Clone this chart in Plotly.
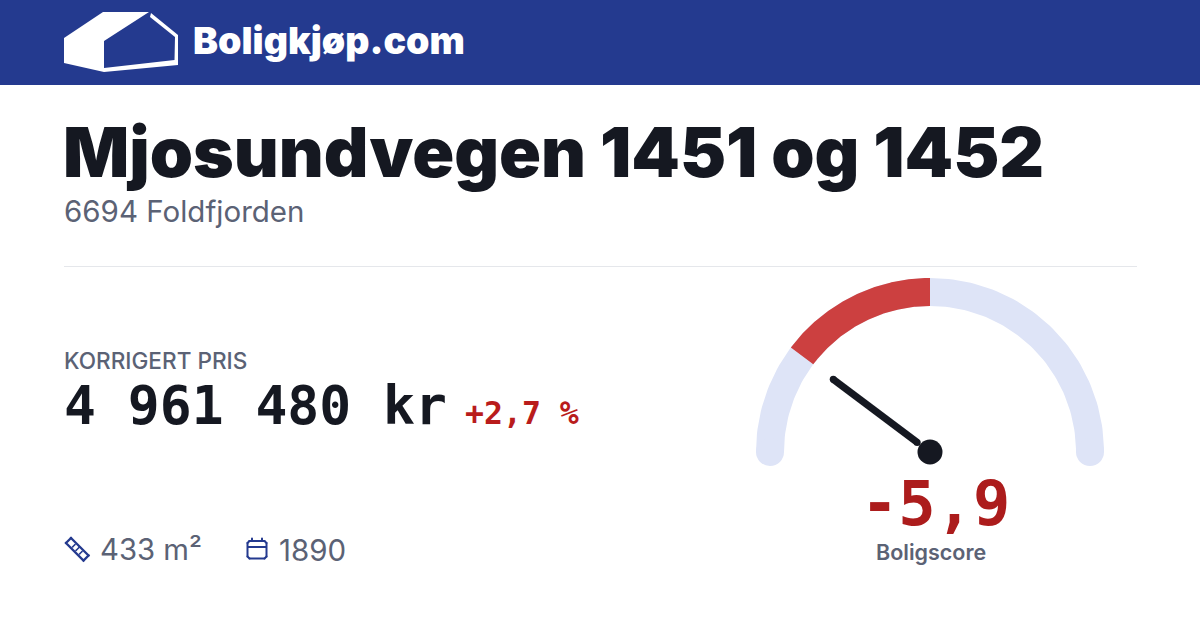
import math
import plotly.graph_objects as go

# --- content ---
brand = "Boligkjøp.com"
address = "Mjosundvegen 1451 og 1452"
place = "6694 Foldfjorden"
price_label = "KORRIGERT PRIS"
price_text = "4 961 480 kr"
change_text = "+2,7 %"
area_text = "433 m²"
year_text = "1890"
score_label = "Boligscore"
score_text = "-5,9"

# --- gauge values ---
score = -5.9
score_min = -10
score_max = 10

NAVY = "#243A8F"
INK = "#151821"
GREY = "#5B6275"
TRACK = "#DEE4F7"
ARC_RED = "#CC4040"
PCT_RED = "#B91C1C"
SCORE_RED = "#AC1C1C"

CX, CY, R, W = 930, 452, 160, 28

def score_angle(v):
    return (v - score_min) / (score_max - score_min) * math.pi

def band(v0, v1):
    n = 120
    a0, a1 = score_angle(v0), score_angle(v1)
    angs = [a0 + (a1 - a0) * i / n for i in range(n + 1)]
    ro, ri = R + W / 2, R - W / 2
    xs = [CX - ro * math.cos(a) for a in angs] + [CX - ri * math.cos(a) for a in reversed(angs)]
    ys = [CY - ro * math.sin(a) for a in angs] + [CY - ri * math.sin(a) for a in reversed(angs)]
    return xs + xs[:1], ys + ys[:1]

fig = go.Figure()

def poly(xs, ys, color):
    fig.add_trace(go.Scatter(x=xs, y=ys, mode="lines", fill="toself", fillcolor=color,
                             line=dict(width=0, color=color), hoverinfo="skip", showlegend=False))

def stroke(xs, ys, color, width):
    fig.add_trace(go.Scatter(x=xs, y=ys, mode="lines+markers", line=dict(width=width, color=color),
                             marker=dict(size=width, color=color, line=dict(width=0)),
                             hoverinfo="skip", showlegend=False))

def dot(x, y, color, size):
    fig.add_trace(go.Scatter(x=[x], y=[y], mode="markers", marker=dict(size=size, color=color, line=dict(width=0)),
                             hoverinfo="skip", showlegend=False))

# header band + divider
poly([0, 1200, 1200, 0, 0], [0, 0, 85, 85, 0], NAVY)
fig.add_trace(go.Scatter(x=[64, 1137], y=[266.5, 266.5], mode="lines", line=dict(width=1, color="#E5E7EB"),
                         hoverinfo="skip", showlegend=False))

# logo
poly([64, 103, 149, 104, 104, 64, 64], [38, 12, 12, 41, 72, 63, 38], "#FFFFFF")
poly([151, 178, 178, 104, 104, 174.5, 175, 150, 151],
     [13, 35, 65, 72, 68, 60, 37, 17, 13], "#FFFFFF")

# gauge
poly(*band(score_min, score_max), TRACK)
dot(CX - R, CY, TRACK, W)
dot(CX + R, CY, TRACK, W)
poly(*band(score, 0), ARC_RED)
a = score_angle(score)
L = 121
stroke([CX - 16 * math.cos(a), CX - L * math.cos(a)], [CY - 16 * math.sin(a), CY - L * math.sin(a)], INK, 7)
dot(CX, CY, INK, 25)

# ruler icon
stroke([71, 66, 83.5, 88.5, 71], [538, 543, 560.5, 555.5, 538], NAVY, 2.3)
for tx, ty, ex, ey in [(72.5, 547, 75, 544.5), (76, 550.5, 79.5, 547), (79.5, 554, 82, 551.5)]:
    stroke([tx, ex], [ty, ey], NAVY, 1.6)

# calendar icon
stroke([249.5, 264.5, 266.5, 266.5, 264.5, 249.5, 247.5, 247.5, 249.5],
       [541, 541, 543, 556.5, 558.5, 558.5, 556.5, 543, 541], NAVY, 2)
stroke([248, 266], [547, 547], NAVY, 2)
stroke([252, 252], [538.5, 541], NAVY, 2)
stroke([262, 262], [538.5, 541], NAVY, 2)

def label(x, y, text, size, color, family="Inter", weight=400, anchor="left"):
    fig.add_annotation(x=x, y=y, text=text, xanchor=anchor, yanchor="middle", showarrow=False, borderpad=0,
                       borderwidth=0, align=anchor, font=dict(family=family, size=size, color=color, weight=weight))

MONO = "DejaVu Sans Mono"
label(192.5, 40, brand, 37.5, "#FFFFFF", weight=900)
label(63, 151.5, address, 69.3, INK, weight=900)
label(64, 210.5, place, 29.5, GREY)
label(64, 360, price_label, 22.6, GREY, weight=500)
label(64, 405, price_text, 53, INK, family=MONO, weight=700)
label(465, 413, change_text, 31.5, PCT_RED, family=MONO, weight=700)
label(100, 549.5, area_text, 29.3, GREY)
label(279, 549.5, year_text, 29.5, GREY)
label(935.5, 503, score_text, 62, SCORE_RED, family=MONO, weight=700, anchor="center")
label(930.5, 552, score_label, 21.5, GREY, weight=600, anchor="center")

fig.update_layout(
    width=1200, height=630, margin=dict(l=0, r=0, t=0, b=0),
    paper_bgcolor="#FFFFFF", plot_bgcolor="#FFFFFF", showlegend=False,
    xaxis=dict(range=[0, 1200], visible=False, fixedrange=True),
    yaxis=dict(range=[630, 0], visible=False, fixedrange=True),
)
fig.write_html("out.html", config={"displayModeBar": False},
               post_script="document.body.style.margin='0';document.body.style.overflow='hidden';")
